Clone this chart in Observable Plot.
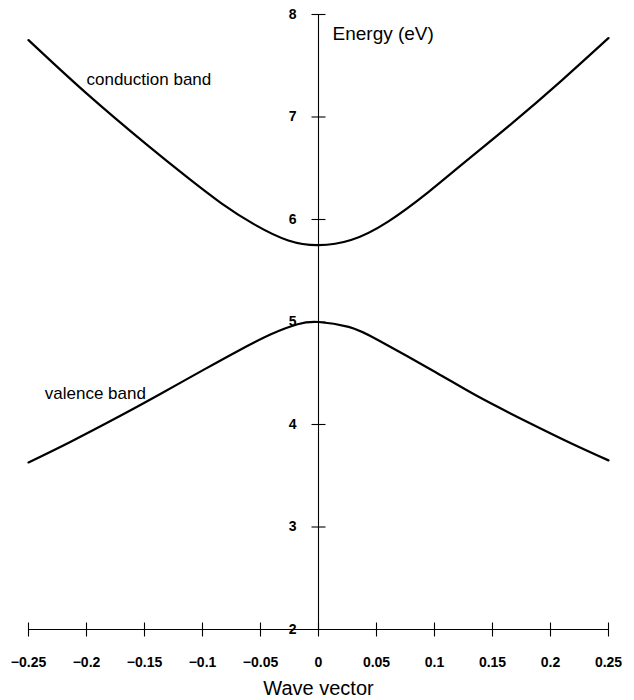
<!DOCTYPE html>
<html>
<head>
<meta charset="utf-8">
<script src="https://cdn.jsdelivr.net/npm/d3@7"></script>
<script src="https://cdn.jsdelivr.net/npm/@observablehq/plot@0.6"></script>
<style>
  html, body { margin: 0; padding: 0; background: #fff; }
</style>
</head>
<body>
<div id="chart"></div>
<script>
// Conduction band (wave vector, energy in eV)
const kConduction = [-0.25, -0.2, -0.147, -0.113, -0.084, -0.055, -0.026, 0, 0.028, 0.06, 0.095, 0.124, 0.167, 0.21, 0.25];
const eConduction = [7.75, 7.23, 6.72, 6.41, 6.16, 5.95, 5.795, 5.75, 5.80, 5.98, 6.27, 6.54, 6.94, 7.36, 7.77];

// Valence band
const kValence = [-0.25, -0.214, -0.17, -0.136, -0.098, -0.069, -0.041, -0.018, 0, 0.026, 0.052, 0.101, 0.138, 0.181, 0.219, 0.25];
const eValence = [3.63, 3.83, 4.09, 4.30, 4.54, 4.72, 4.88, 4.978, 5.00, 4.952, 4.82, 4.51, 4.27, 4.02, 3.81, 3.65];

// Tick values
const xTicks = [-0.25, -0.2, -0.15, -0.1, -0.05, 0, 0.05, 0.1, 0.15, 0.2, 0.25];
const yTicks = [2, 3, 4, 5, 6, 7, 8];

// Texts
const xTitle = "Wave vector";
const yTitle = "Energy (eV)";
const bandLabels = ["conduction band", "valence band"];

const conduction = kConduction.map((k, i) => ({k, e: eConduction[i]}));
const valence = kValence.map((k, i) => ({k, e: eValence[i]}));

const FONT = "'Liberation Sans', Arial, Helvetica, sans-serif";

const hTick = {draw(ctx, size) { const r = Math.sqrt(size / Math.PI); ctx.moveTo(-r, 0); ctx.lineTo(r, 0); }};
const vTick = {draw(ctx, size) { const r = Math.sqrt(size / Math.PI); ctx.moveTo(0, -r); ctx.lineTo(0, r); }};

const fmt = d3.format("");

const chart = Plot.plot({
  width: 634,
  height: 700,
  marginLeft: 28,
  marginRight: 26,
  marginTop: 14,
  marginBottom: 71,
  style: {fontFamily: FONT, background: "#fff", color: "#000"},
  x: {domain: [-0.25, 0.25], axis: null},
  y: {domain: [2, 8], axis: null},
  marks: [
    // axis lines
    Plot.ruleY([2], {x1: -0.25, x2: 0.25, stroke: "#000", strokeWidth: 1.1}),
    Plot.ruleX([0], {y1: 2, y2: 8, stroke: "#000", strokeWidth: 1.1}),
    // ticks
    Plot.dot(xTicks, {x: d => d, y: 2, symbol: vTick, r: 7, stroke: "#000", fill: "none", strokeWidth: 1.1}),
    Plot.dot(yTicks.filter(d => d !== 2), {x: 0, y: d => d, symbol: hTick, r: 7, stroke: "#000", fill: "none", strokeWidth: 1.1}),
    // tick labels
    Plot.text(xTicks, {x: d => d, y: 2, text: d => fmt(d), dy: 33, fontSize: 14, fontWeight: "bold", fill: "#000", lineAnchor: "middle"}),
    Plot.text(yTicks, {x: 0, y: d => d, text: d => String(d), dx: -22, textAnchor: "end", fontSize: 14, fontWeight: "bold", fill: "#000", lineAnchor: "middle"}),
    // curves
    Plot.line(conduction, {x: "k", y: "e", stroke: "#000", strokeWidth: 2.2, curve: "natural"}),
    Plot.line(valence, {x: "k", y: "e", stroke: "#000", strokeWidth: 2.2, curve: "natural"}),
    // band labels
    Plot.text([bandLabels[0]], {x: -0.2, y: 7.37, text: d => d, textAnchor: "start", fontSize: 17, fill: "#000", lineAnchor: "middle"}),
    Plot.text([bandLabels[1]], {x: -0.236, y: 4.30, text: d => d, textAnchor: "start", fontSize: 17, fill: "#000", lineAnchor: "middle"}),
    // axis titles
    Plot.text([yTitle], {x: 0, y: 8, text: d => d, dx: 14, dy: 19, textAnchor: "start", fontSize: 19, fill: "#000", lineAnchor: "middle"}),
    Plot.text([xTitle], {x: 0, y: 2, text: d => d, dy: 59, fontSize: 20, fill: "#000", lineAnchor: "middle"})
  ]
});

document.getElementById("chart").appendChild(chart);
</script>
</body>
</html>
